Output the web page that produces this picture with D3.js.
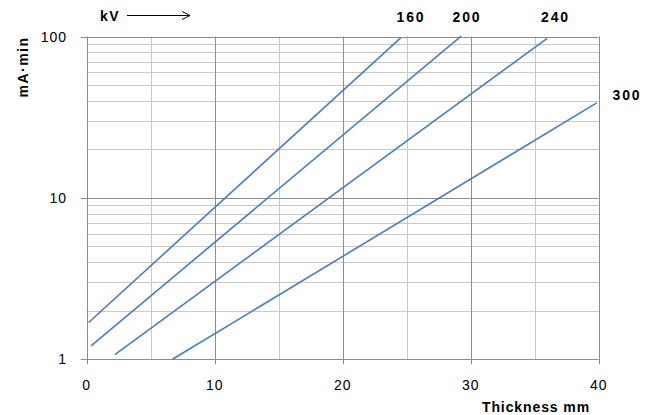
<!DOCTYPE html>
<html>
<head>
<meta charset="utf-8">
<script src="https://cdn.jsdelivr.net/npm/d3@7"></script>
<style>
body { margin: 0; background: #fff; }
text { font-family: "Liberation Sans", Arial, sans-serif; }
</style>
</head>
<body>
<div class="container"></div>
<script>
// kV series, each a straight line on the log chart (thickness mm, mA·min)
const voltages = ['160', '200', '240', '300'];
const startX = [0.15, 0.34, 2.2, 6.7];
const startY = [1.69, 1.21, 1.07, 1.0];
const endX = [24.55, 29.25, 35.98, 39.85];
const endY = [98.5, 100.5, 97.5, 38.8];

const xTicks = [0, 10, 20, 30, 40];
const xMinor = [5, 15, 25, 35];
const yTicks = [1, 10, 100];

const width = 656, height = 415;
const margin = {left: 86.7, right: 57.3, top: 36.5, bottom: 55.7};

const svg = d3.select('.container')
    .append('svg')
    .attr('width', width)
    .attr('height', height);

const x = d3.scaleLinear().domain([0, 40]).range([margin.left, width - margin.right]);
const y = d3.scaleLog().domain([1, 100]).range([height - margin.bottom, margin.top]);

// minor horizontal grid (2..9 per decade)
let yMinor = [];
for (let d = 1; d <= 10; d *= 10) {
    for (let k = 2; k <= 9; k++) yMinor.push(d * k);
}

const grid = svg.append('g');
grid.selectAll('.ym').data(yMinor).enter().append('line')
    .attr('x1', x(0)).attr('x2', x(40))
    .attr('y1', d => Math.round(y(d)) + 0.5).attr('y2', d => Math.round(y(d)) + 0.5)
    .attr('stroke', '#c8c8c8').attr('stroke-width', 1);

grid.selectAll('.xm').data(xMinor).enter().append('line')
    .attr('y1', y(1)).attr('y2', y(100))
    .attr('x1', d => Math.round(x(d)) + 0.5).attr('x2', d => Math.round(x(d)) + 0.5)
    .attr('stroke', '#c8c8c8').attr('stroke-width', 1);

grid.selectAll('.xM').data(xTicks).enter().append('line')
    .attr('y1', y(1) + 5).attr('y2', y(100))
    .attr('x1', d => Math.round(x(d)) + 0.5).attr('x2', d => Math.round(x(d)) + 0.5)
    .attr('stroke', '#8c8c8c').attr('stroke-width', 1);

grid.selectAll('.yM').data(yTicks).enter().append('line')
    .attr('x1', x(0) - 6).attr('x2', x(40))
    .attr('y1', d => Math.round(y(d)) + 0.5).attr('y2', d => Math.round(y(d)) + 0.5)
    .attr('stroke', '#8c8c8c').attr('stroke-width', 1);

// tick labels
svg.selectAll('.xl').data(xTicks).enter().append('text')
    .attr('x', d => x(d)).attr('y', 389.5)
    .attr('text-anchor', 'middle')
    .attr('font-size', 14).attr('letter-spacing', 1)
    .text(d => d);

svg.selectAll('.yl').data(yTicks).enter().append('text')
    .attr('x', 67).attr('y', d => y(d) + 5)
    .attr('text-anchor', 'end')
    .attr('font-size', 14).attr('letter-spacing', 1)
    .text(d => d);

// series lines
const lines = voltages.map((v, i) => ({
    kv: v,
    pts: [[startX[i], startY[i]], [endX[i], endY[i]]]
}));

const line = d3.line().x(d => x(d[0])).y(d => y(d[1]));

svg.selectAll('.series').data(lines).enter().append('path')
    .attr('d', d => line(d.pts))
    .attr('fill', 'none')
    .attr('stroke', '#4a7ebb')
    .attr('stroke-width', 1.6);

// kV labels
const labelPos = [[411, 22], [467, 22], [555.5, 22], [627, 99.5]];
svg.selectAll('.kv').data(lines).enter().append('text')
    .attr('x', (d, i) => labelPos[i][0]).attr('y', (d, i) => labelPos[i][1])
    .attr('text-anchor', 'middle')
    .attr('font-size', 14).attr('font-weight', 'bold').attr('letter-spacing', 1.8)
    .text(d => d.kv);

// kV arrow
svg.append('text')
    .attr('x', 100).attr('y', 21)
    .attr('font-size', 14).attr('font-weight', 'bold').attr('letter-spacing', 1.5)
    .text('kV');
svg.append('line')
    .attr('x1', 127).attr('x2', 190).attr('y1', 15.5).attr('y2', 15.5)
    .attr('stroke', '#000').attr('stroke-width', 1);
svg.append('path')
    .attr('d', 'M182,11.5 L190,15.5 L182,19.5')
    .attr('fill', 'none').attr('stroke', '#000').attr('stroke-width', 1);

// axis titles
svg.append('text')
    .attr('x', 590).attr('y', 412)
    .attr('text-anchor', 'end')
    .attr('font-size', 14).attr('font-weight', 'bold').attr('letter-spacing', 0.9)
    .text('Thickness mm');

svg.append('text')
    .attr('transform', 'translate(28,67) rotate(-90)')
    .attr('text-anchor', 'middle')
    .attr('font-size', 14).attr('font-weight', 'bold').attr('letter-spacing', 1.5)
    .text('mA·min');
</script>
</body>
</html>
